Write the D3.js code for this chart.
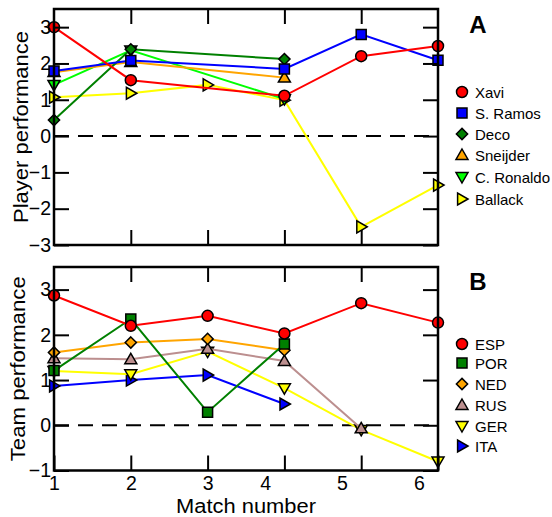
<!DOCTYPE html>
<html><head><meta charset="utf-8">
<script src="https://cdn.jsdelivr.net/npm/d3@7"></script>
<style>
body{margin:0;background:#fff}
svg{display:block}
text{font-family:"Liberation Sans",Arial,Helvetica,sans-serif;fill:#000}
</style>
</head><body>
<svg id="chart" width="552" height="517"></svg>
<script>
// ---------- data ----------
const matches = [1, 2, 3, 4, 5, 6];
const xTickLabels = ["1", "2", "3", "4", "5", "6"];
const yTicksA = [-3, -2, -1, 0, 1, 2, 3];
const yTicksB = [-1, 0, 1, 2, 3];

const players = ["Xavi", "S. Ramos", "Deco", "Sneijder", "C. Ronaldo", "Ballack"];
const xavi      = [3.00, 1.54, null, 1.11, 2.20, 2.48];
const sRamos    = [1.79, 2.08, null, 1.85, 2.80, 2.09];
const deco      = [0.44, 2.39, null, 2.12, null, null];
const sneijder  = [1.76, 2.04, null, 1.61, null, null];
const cRonaldo  = [1.41, 2.36, null, 1.02, null, null];
const ballack   = [1.07, 1.18, 1.41, 0.99, -2.50, -1.35];

const teams = ["ESP", "POR", "NED", "RUS", "GER", "ITA"];
const esp = [2.87, 2.20, 2.42, 2.03, 2.70, 2.27];
const por = [1.21, 2.35, 0.29, 1.80, null, null];
const ned = [1.61, 1.83, 1.91, 1.66, null, null];
const rus = [1.48, 1.46, 1.69, 1.42, -0.07, null];
const ger = [1.20, 1.13, 1.63, 0.82, -0.10, -0.80];
const ita = [0.87, 1.00, 1.11, 0.47, null, null];

// ---------- styles ----------
const playerStyle = [
  {color: "#ff0000", shape: "circle"},
  {color: "#0000ff", shape: "square"},
  {color: "#008000", shape: "diamond"},
  {color: "#ffa500", shape: "triUp"},
  {color: "#00ff00", shape: "triDown"},
  {color: "#ffff00", shape: "triRight"}
];
const teamStyle = [
  {color: "#ff0000", shape: "circle"},
  {color: "#008000", shape: "square"},
  {color: "#ffa500", shape: "diamond"},
  {color: "#bc8f8f", shape: "triUp"},
  {color: "#ffff00", shape: "triDown"},
  {color: "#0000ff", shape: "triRight"}
];

function shapePath(shape) {
  switch (shape) {
    case "circle": return d3.symbol(d3.symbolCircle, Math.PI * 5.5 * 5.5)();
    case "square": return d3.symbol(d3.symbolSquare, 100)();
    case "diamond": return "M0,-5.6L5.6,0L0,5.6L-5.6,0Z";
    case "triUp": return "M0,-6L6,4.4L-6,4.4Z";
    case "triDown": return "M0,6L6,-4.4L-6,-4.4Z";
    case "triRight": return "M6,0L-4.4,6L-4.4,-6Z";
  }
}

const svg = d3.select("#chart");
const x = d3.scaleLinear().domain([1, 6]).range([54, 438]);

function panel(cfg) {
  const y = d3.scaleLinear().domain(cfg.yDomain).range([cfg.bottom, cfg.top]);
  const g = svg.append("g");

  // zero dashed line
  g.append("line")
    .attr("x1", x(1)).attr("x2", x(6))
    .attr("y1", y(0)).attr("y2", y(0))
    .attr("stroke", "#000").attr("stroke-width", 2)
    .attr("stroke-dasharray", "15,9");

  // series (drawn in reverse so first series is on top)
  const line = d3.line().x(d => x(d[0])).y(d => y(d[1]));
  for (let i = cfg.series.length - 1; i >= 0; i--) {
    const vals = cfg.series[i];
    const st = cfg.styles[i];
    const pts = matches.map((m, j) => [m, vals[j]]).filter(d => d[1] !== null);
    g.append("path").datum(pts)
      .attr("d", line)
      .attr("fill", "none")
      .attr("stroke", st.color)
      .attr("stroke-width", 2);
    g.selectAll(null).data(pts).enter().append("path")
      .attr("d", shapePath(st.shape))
      .attr("transform", d => `translate(${x(d[0])},${y(d[1])})`)
      .attr("fill", st.color)
      .attr("stroke", "#000")
      .attr("stroke-width", 1.5);
  }

  // axes: inward ticks on all sides
  const left = g.append("g").attr("transform", `translate(${x(1)},0)`)
    .call(d3.axisLeft(y).tickValues(cfg.yTicks).tickSize(-15).tickSizeOuter(0).tickPadding(3).tickFormat(d3.format("d")));
  const right = g.append("g").attr("transform", `translate(${x(6)},0)`)
    .call(d3.axisRight(y).tickValues(cfg.yTicks).tickSize(-15).tickSizeOuter(0).tickFormat(""));
  const top = g.append("g").attr("transform", `translate(0,${cfg.top})`)
    .call(d3.axisTop(x).tickValues(matches.slice(1, 5)).tickSize(-15).tickSizeOuter(0).tickFormat(""));
  const bottom = g.append("g").attr("transform", `translate(0,${cfg.bottom})`)
    .call(d3.axisBottom(x).tickValues(cfg.showX ? matches : matches.slice(1, 5))
      .tickSize(-15).tickSizeOuter(0).tickPadding(6)
      .tickFormat(cfg.showX ? ((d, i) => xTickLabels[i]) : ""));
  [left, right, top, bottom].forEach(a => {
    a.select(".domain").remove();
    a.selectAll(".tick line").attr("stroke", "#000").attr("stroke-width", 2);
    a.selectAll("text").attr("font-size", 19.5).attr("font-family", null).attr("fill", "#000");
  });
  if (cfg.showX) {
    // labels 4-6 sit a little left of their ticks in the original figure
    bottom.selectAll(".tick text").attr("x", d => d >= 4 ? -(x(2) - x(1)) * 0.25 : 0);
  }

  // frame
  g.append("rect")
    .attr("x", x(1)).attr("y", cfg.top)
    .attr("width", x(6) - x(1)).attr("height", cfg.bottom - cfg.top)
    .attr("fill", "none").attr("stroke", "#000").attr("stroke-width", 2.5);

  // y title
  g.append("text")
    .attr("transform", `translate(${cfg.titleX},${(cfg.top + cfg.bottom) / 2}) rotate(-90)`)
    .attr("text-anchor", "middle")
    .attr("font-size", 20)
    .attr("textLength", cfg.titleLen)
    .attr("lengthAdjust", "spacingAndGlyphs")
    .text(cfg.yTitle);

  // panel letter
  g.append("text")
    .attr("x", 478).attr("y", cfg.top + cfg.letterDy)
    .attr("text-anchor", "middle")
    .attr("font-size", 24).attr("font-weight", "bold")
    .text(cfg.letter);

  // legend
  cfg.names.forEach((name, i) => {
    const ly = cfg.legendY[i];
    g.append("path")
      .attr("d", shapePath(cfg.styles[i].shape))
      .attr("transform", `translate(462,${ly})`)
      .attr("fill", cfg.styles[i].color)
      .attr("stroke", "#000").attr("stroke-width", 1.5);
    g.append("text")
      .attr("x", 475).attr("y", ly + 5.5)
      .attr("font-size", 15)
      .text(name);
  });
}

panel({
  yDomain: [-3, 3.5], top: 9, bottom: 245, yTicks: yTicksA,
  series: [xavi, sRamos, deco, sneijder, cRonaldo, ballack],
  styles: playerStyle, names: players,
  legendY: [92, 113, 134, 155, 177, 199],
  yTitle: "Player performance", titleX: 28, titleLen: 192, letter: "A", letterDy: 24,
  showX: false
});

panel({
  yDomain: [-1, 3.5], top: 267, bottom: 470.5, yTicks: yTicksB,
  series: [esp, por, ned, rus, ger, ita],
  styles: teamStyle, names: teams,
  legendY: [344, 363, 384, 405, 426, 446],
  yTitle: "Team performance", titleX: 25, titleLen: 185, letter: "B", letterDy: 23,
  showX: true
});

svg.append("text")
  .attr("x", 246).attr("y", 513)
  .attr("text-anchor", "middle")
  .attr("font-size", 20)
  .attr("textLength", 140)
  .attr("lengthAdjust", "spacingAndGlyphs")
  .text("Match number");
</script>
</body></html>
